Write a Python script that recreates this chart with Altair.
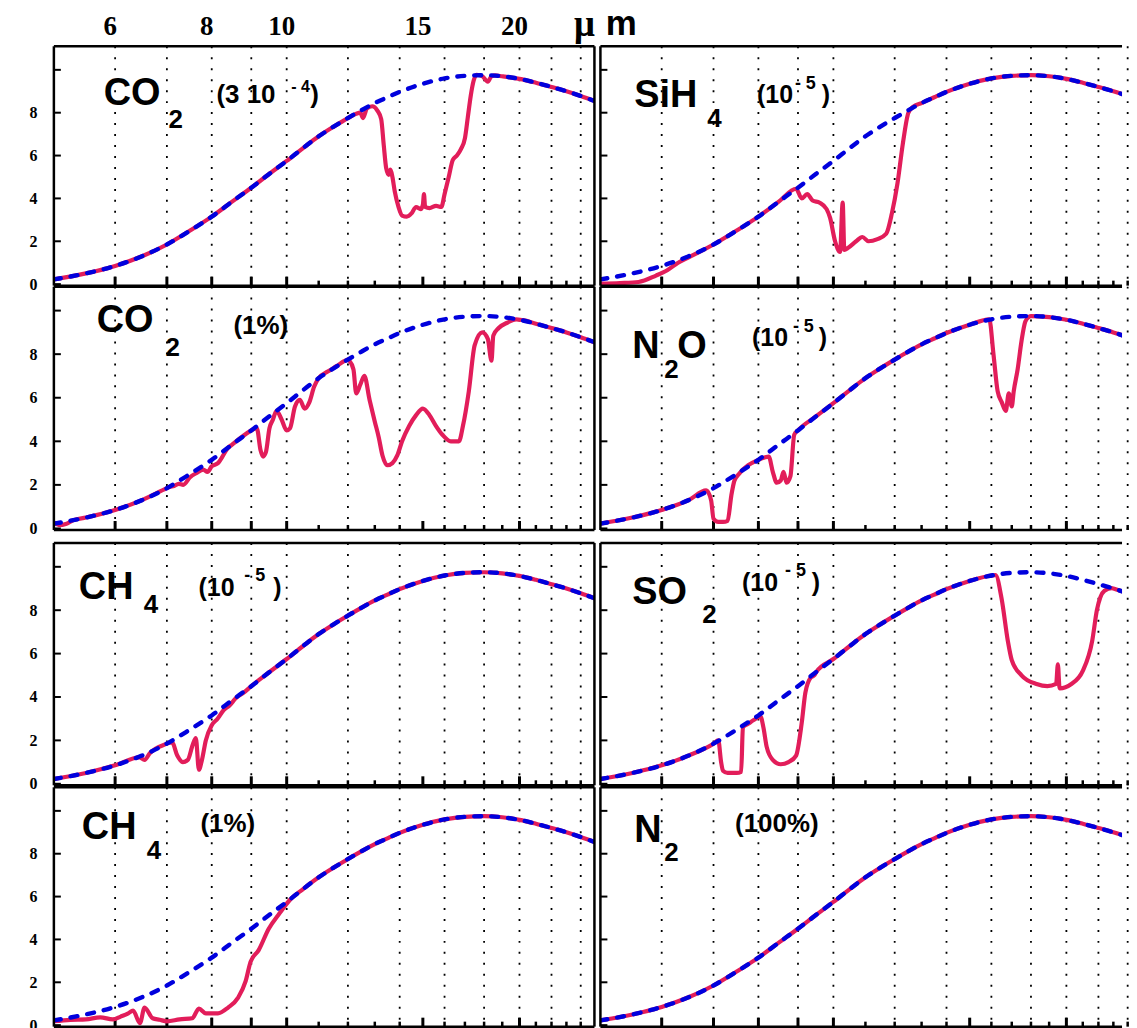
import altair as alt
import pandas as pd

RED = "#E21D5A"
BLUE = "#0000DD"

GRID_WL = [6, 7, 8, 9, 10, 12, 14, 16, 18, 20, 22, 24]
MAJOR_WL = [6, 7, 8, 9, 10, 15, 20]
MINOR_WL = [11, 12, 13, 14, 16, 17, 18, 19, 21, 22, 23, 24]
Y_TICKS = [0, 2, 4, 6, 8, 10]
Y_LABELS = [0, 2, 4, 6, 8]
TOP_LABELS = [6, 8, 10, 15, 20]

# blackbody reference curve (dashed blue)
BB_WL = [5.0, 5.5, 6.0, 6.5, 7.0, 7.5, 8.0, 8.5, 9.0, 9.5, 10.0, 10.5, 11.0, 11.5,
         12.0, 12.5, 13.0, 13.5, 14.0, 15.0, 16.0, 17.0, 18.0, 19.0, 20.0, 21.0,
         22.0, 23.0, 24.0, 25.0]
BB_VAL = [0.22, 0.5, 0.85, 1.3, 1.85, 2.5, 3.15, 3.85, 4.5, 5.15, 5.75, 6.35, 6.9, 7.35,
          7.75, 8.12, 8.45, 8.72, 8.97, 9.35, 9.6, 9.72, 9.75, 9.7, 9.58, 9.4,
          9.2, 9.0, 8.78, 8.55]

# absorption features (solid red) per panel
CO2A_WL = [12.3, 12.45, 12.55, 12.7, 12.9, 13.1, 13.25, 13.35, 13.45, 13.55, 13.62, 13.7, 13.8,
           13.95, 14.1, 14.3, 14.5, 14.7, 14.9, 15.0, 15.05, 15.1, 15.3, 15.6, 15.85, 16.0, 16.2,
           16.4, 16.6, 16.8, 17.0, 17.15, 17.3, 17.45, 17.6, 17.9, 18.2, 18.4, 18.6]
CO2A_VAL = [7.95, 8.0, 7.75, 8.2, 8.3, 8.1, 7.7, 6.5, 5.4, 5.1, 5.35, 5.0, 4.3,
            3.6, 3.2, 3.15, 3.3, 3.6, 3.5, 3.7, 4.2, 3.6, 3.55, 3.65, 3.6, 4.2, 5.0,
            5.8, 6.0, 6.3, 6.8, 7.8, 8.8, 9.5, 9.77, 9.7, 9.45, 9.7, 9.74]

CO2B1_WL = [5.0, 5.08, 5.18, 5.3]
CO2B1_VAL = [0.28, 0.15, 0.2, 0.38]
CO2B2_WL = [7.05, 7.15, 7.25, 7.35, 7.5, 7.65, 7.8, 7.9, 8.0, 8.15, 8.4]
CO2B2_VAL = [1.9, 1.95, 2.05, 2.0, 2.35, 2.55, 2.7, 2.6, 2.85, 3.0, 3.7]
CO2B3_WL = [9.05, 9.15, 9.25, 9.32, 9.4, 9.5, 9.6, 9.7, 9.85, 10.0, 10.1, 10.25, 10.4,
            10.55, 10.7, 10.85, 11.0, 11.3, 11.6, 11.9]
CO2B3_VAL = [4.55, 4.6, 3.6, 3.3, 3.5, 4.6, 5.0, 5.4, 5.0, 4.5, 4.6, 5.6, 5.9,
             5.5, 5.8, 6.5, 6.9, 7.2, 7.45, 7.7]
CO2B4_WL = [12.05, 12.2, 12.3, 12.45, 12.6, 12.8, 13.0, 13.15, 13.3, 13.5, 13.7, 13.9, 14.1,
            14.4, 14.7, 15.0, 15.3, 15.6, 15.9, 16.3, 16.7, 16.9, 17.2, 17.5, 17.9, 18.2,
            18.4, 18.5, 18.8, 19.3, 19.8, 20.2]
CO2B4_VAL = [7.7, 7.3, 6.2, 6.6, 7.0, 5.9, 4.9, 4.2, 3.35, 2.9, 3.0, 3.35, 4.0,
             4.7, 5.2, 5.5, 5.2, 4.7, 4.3, 4.0, 4.0, 4.7, 6.3, 8.4, 9.0, 8.7,
             7.7, 8.85, 9.2, 9.45, 9.6, 9.56]

CH4A1_WL = [6.45, 6.55, 6.65]
CH4A1_VAL = [1.22, 1.1, 1.4]
CH4A2_WL = [7.05, 7.11, 7.22, 7.34, 7.45, 7.56, 7.63, 7.70, 7.77, 7.86, 8.0, 8.14, 8.29,
            8.43, 8.6, 8.8]
CH4A2_VAL = [1.9, 1.9, 1.3, 1.0, 1.1, 1.8, 2.1, 0.65, 1.1, 2.0, 2.7, 3.0, 3.4,
             3.6, 3.95, 4.2]

CH4B_WL = [5.0, 5.25, 5.5, 5.74, 5.96, 6.1, 6.24, 6.33, 6.46, 6.55, 6.71, 6.85, 7.0, 7.27,
           7.55, 7.7, 7.86, 8.15, 8.4, 8.65, 8.85, 8.98, 9.2, 9.48, 9.78, 10.1]
CH4B_VAL = [0.18, 0.25, 0.27, 0.36, 0.27, 0.4, 0.55, 0.68, 0.09, 0.82, 0.32, 0.25, 0.18, 0.27,
            0.32, 0.77, 0.55, 0.55, 0.82, 1.27, 2.05, 2.95, 3.5, 4.5, 5.2, 5.85]

SIH4A_WL = [5.0, 5.3, 5.6, 5.9, 6.1, 6.3, 6.5]
SIH4A_VAL = [0.02, 0.05, 0.1, 0.4, 0.65, 1.0, 1.25]
SIH4B_WL = [8.95, 9.1, 9.25, 9.4, 9.6, 9.8, 9.9, 10.05, 10.2, 10.28, 10.33, 10.45, 10.7,
            10.9, 11.1, 11.4, 11.7, 11.9, 12.1, 12.3, 12.5, 12.7]
SIH4B_VAL = [4.45, 4.0, 4.2, 3.9, 3.8, 3.5, 3.1, 2.0, 1.5, 3.8, 1.6, 1.7, 2.0,
             2.2, 2.0, 2.1, 2.35, 3.3, 4.7, 6.6, 8.0, 8.3]

N2OA1_WL = [6.85, 6.95, 7.0, 7.1, 7.2, 7.3, 7.38, 7.45, 7.55]
N2OA1_VAL = [1.75, 1.3, 0.45, 0.3, 0.3, 0.35, 1.5, 2.2, 2.5]
N2OA2_WL = [8.25, 8.35, 8.45, 8.55, 8.62, 8.7, 8.8, 8.9]
N2OA2_VAL = [3.3, 2.6, 2.1, 2.2, 2.6, 2.1, 2.4, 4.3]
N2OB_WL = [15.9, 16.1, 16.3, 16.5, 16.7, 16.85, 17.0, 17.1, 17.3, 17.5, 17.7, 17.9]
N2OB_VAL = [9.6, 8.0, 6.3, 5.8, 5.4, 6.2, 5.6, 6.3, 7.3, 8.6, 9.5, 9.72]

SO2A_WL = [7.1, 7.16, 7.2, 7.3, 7.5, 7.6, 7.64, 7.75, 7.9, 8.05, 8.12, 8.2, 8.35, 8.55,
           8.75, 8.95, 9.1, 9.2, 9.35, 9.45]
SO2A_VAL = [2.0, 1.0, 0.6, 0.5, 0.5, 0.55, 2.6, 2.75, 2.95, 3.1, 2.6, 1.7, 1.1, 0.9,
            1.0, 1.3, 2.8, 4.2, 4.9, 5.0]
SO2B_WL = [16.2, 16.5, 16.8, 17.0, 17.5, 18.3, 18.9, 19.4, 19.5, 19.6, 20.3, 21.0, 21.6,
           21.9, 22.4, 22.9]
SO2B_VAL = [9.62, 8.5, 6.6, 5.7, 5.0, 4.6, 4.5, 4.6, 5.5, 4.4, 4.6, 5.2, 6.6,
            8.0, 8.9, 9.02]

# layout
W_LEFT = 542
W_RIGHT = 523
X_DOMAIN_LEFT = [5, 25]
X_DOMAIN_RIGHT = [5, 23.6]          # right column is cut by the page edge
PLOT_H = [240, 244, 243, 240]       # plot heights per row
CELL_H = [241, 257, 245, 241]       # plot + white gap below
YDOM = [-0.07, 11.1]
SANS = "Liberation Sans"
SERIF = "Liberation Serif"


def red_series(bands):
    pts = []
    for w, v in zip(BB_WL, BB_VAL):
        if not any(min(bw) <= w <= max(bw) for bw, _ in bands):
            pts.append((w, v))
    for bw, bv in bands:
        pts += list(zip(bw, bv))
    pts.sort()
    return pd.DataFrame(pts, columns=["wl", "val"])


def text_layer(txt, x, y, size, font=SANS):
    return alt.Chart(pd.DataFrame({"t": [txt]})).mark_text(
        align="left", baseline="alphabetic", font=font, fontSize=size,
        fontWeight="bold", color="black"
    ).encode(text="t:N", x=alt.value(x), y=alt.value(y))


def panel(bands, labels, row, right=False, top=False):
    h = PLOT_H[row]
    w = W_RIGHT if right else W_LEFT
    xs = alt.Scale(type="log", domain=X_DOMAIN_RIGHT if right else X_DOMAIN_LEFT, nice=False)
    ys = alt.Scale(domain=YDOM, range=[h, 0], nice=False, zero=False)
    if right:
        yaxis = None
    else:
        yaxis = alt.Axis(values=Y_LABELS, labelFont=SERIF, labelFontWeight="bold",
                         labelFontSize=16, labelColor="black", tickSize=0, domain=False,
                         grid=False, labelPadding=17, title=None)

    def X():
        return alt.X("wl:Q", scale=xs, axis=None)

    def Y():
        return alt.Y("val:Q", scale=ys, axis=yaxis)

    one = pd.DataFrame({"a": [0]})
    layers = [
        alt.Chart(pd.DataFrame({"wl": GRID_WL})).mark_rule(
            color="black", strokeWidth=1.8, strokeDash=[2, 9]).encode(
            x=X(), y=alt.value(0), y2=alt.value(h)),
        alt.Chart(pd.DataFrame({"wl": MAJOR_WL})).mark_rule(
            color="black", strokeWidth=3).encode(x=X(), y=alt.value(h), y2=alt.value(h - 9)),
        alt.Chart(pd.DataFrame({"wl": MINOR_WL})).mark_rule(
            color="black", strokeWidth=2.5).encode(x=X(), y=alt.value(h), y2=alt.value(h - 5)),
        alt.Chart(pd.DataFrame({"val": Y_TICKS})).mark_rule(
            color="black", strokeWidth=2).encode(y=Y(), x=alt.value(0), x2=alt.value(7)),
        alt.Chart(red_series(bands)).mark_line(
            color=RED, strokeWidth=4.2, interpolate="monotone", clip=True).encode(x=X(), y=Y()),
        alt.Chart(pd.DataFrame({"wl": BB_WL, "val": BB_VAL})).mark_line(
            color=BLUE, strokeWidth=4.4, strokeDash=[7, 10], strokeCap="round",
            interpolate="monotone", clip=True).encode(x=X(), y=Y()),
        alt.Chart(one).mark_rule(color="black", strokeWidth=2.5).encode(
            x=alt.value(0), y=alt.value(0), y2=alt.value(h)),
        alt.Chart(one).mark_rule(color="black", strokeWidth=2.5).encode(
            y=alt.value(0), x=alt.value(0), x2=alt.value(w)),
        alt.Chart(one).mark_rule(color="black", strokeWidth=2.5).encode(
            y=alt.value(h), x=alt.value(0), x2=alt.value(w)),
    ]
    if not right:
        layers.append(alt.Chart(one).mark_rule(color="black", strokeWidth=2.5).encode(
            x=alt.value(w), y=alt.value(0), y2=alt.value(h)))
    for lab in labels:
        layers.append(text_layer(*lab))
    if top:
        layers.append(alt.Chart(pd.DataFrame({"wl": TOP_LABELS,
                                              "lab": [str(v) for v in TOP_LABELS]})).mark_text(
            font=SERIF, fontWeight="bold", fontSize=27, align="center",
            baseline="alphabetic", dx=-5, color="black").encode(
            x=X(), y=alt.value(-11), text="lab:N"))
        layers.append(alt.Chart(pd.DataFrame({"t": ["\u03bc"]})).mark_text(
            font=SERIF, fontWeight="bold", fontSize=37, align="center", baseline="alphabetic",
            color="black").encode(text="t:N", x=alt.value(532), y=alt.value(-10)))
        layers.append(alt.Chart(pd.DataFrame({"t": ["m"]})).mark_text(
            font=SANS, fontWeight="bold", fontSize=35, align="center",
            baseline="alphabetic", color="black").encode(
            text="t:N", x=alt.value(569), y=alt.value(-11)))
    return alt.layer(*layers).properties(width=w, height=CELL_H[row])


p1 = panel([(CO2A_WL, CO2A_VAL)],
           [("CO", 50, 59, 38), ("2", 115, 82, 26), ("(3 10", 163, 57, 26),
            ("- 4", 238, 46, 16), (")", 257, 57, 26)], 0, top=True)
p2 = panel([(CO2B1_WL, CO2B1_VAL), (CO2B2_WL, CO2B2_VAL), (CO2B3_WL, CO2B3_VAL),
            (CO2B4_WL, CO2B4_VAL)],
           [("CO", 43, 45, 38), ("2", 112, 70, 26), ("(1%)", 180, 47, 26)], 1)
p3 = panel([(CH4A1_WL, CH4A1_VAL), (CH4A2_WL, CH4A2_VAL)],
           [("CH", 25, 56, 38), ("4", 90, 70, 26), ("(10", 145, 53, 25),
            ("- 5", 191, 38, 18), (")", 220, 53, 25)], 2)
p4 = panel([(CH4B_WL, CH4B_VAL)],
           [("CH", 28, 52, 38), ("4", 93, 72, 26), ("(1%)", 147, 45, 26)], 3)
p5 = panel([(SIH4A_WL, SIH4A_VAL), (SIH4B_WL, SIH4B_VAL)],
           [("SiH", 34, 61, 38), ("4", 107, 81, 26), ("(10", 157, 57, 25),
            ("- 5", 195, 43, 18), (")", 222, 57, 25)], 0, right=True)
p6 = panel([(N2OA1_WL, N2OA1_VAL), (N2OA2_WL, N2OA2_VAL), (N2OB_WL, N2OB_VAL)],
           [("N", 32, 72, 38), ("2", 64, 92, 26), ("O", 77, 72, 38), ("(10", 152, 60, 25),
            ("- 5", 193, 45, 18), (")", 219, 60, 25)], 1, right=True)
p7 = panel([(SO2A_WL, SO2A_VAL), (SO2B_WL, SO2B_VAL)],
           [("SO", 32, 61, 38), ("2", 102, 80, 26), ("(10", 142, 48, 25),
            ("- 5", 185, 33, 18), (")", 212, 48, 25)], 2, right=True)
p8 = panel([],
           [("N", 34, 55, 38), ("2", 64, 74, 26), ("(100%)", 135, 45, 26)],
           3, right=True)

base = alt.concat(
    p1, p5, p2, p6, p3, p7, p4, p8,
    columns=2, spacing={"row": 0, "column": 6}, bounds="flush",
).configure_view(strokeWidth=0)

try:
    chart = base.properties(padding={"left": 21, "top": -3, "right": 0, "bottom": 0})
    chart.save("out.html", embed_options={"renderer": "svg", "actions": False})
except Exception:
    chart = base.properties(padding={"left": 21, "top": 0, "right": 0, "bottom": 0})
    chart.save("out.html", embed_options={"renderer": "svg", "actions": False})
